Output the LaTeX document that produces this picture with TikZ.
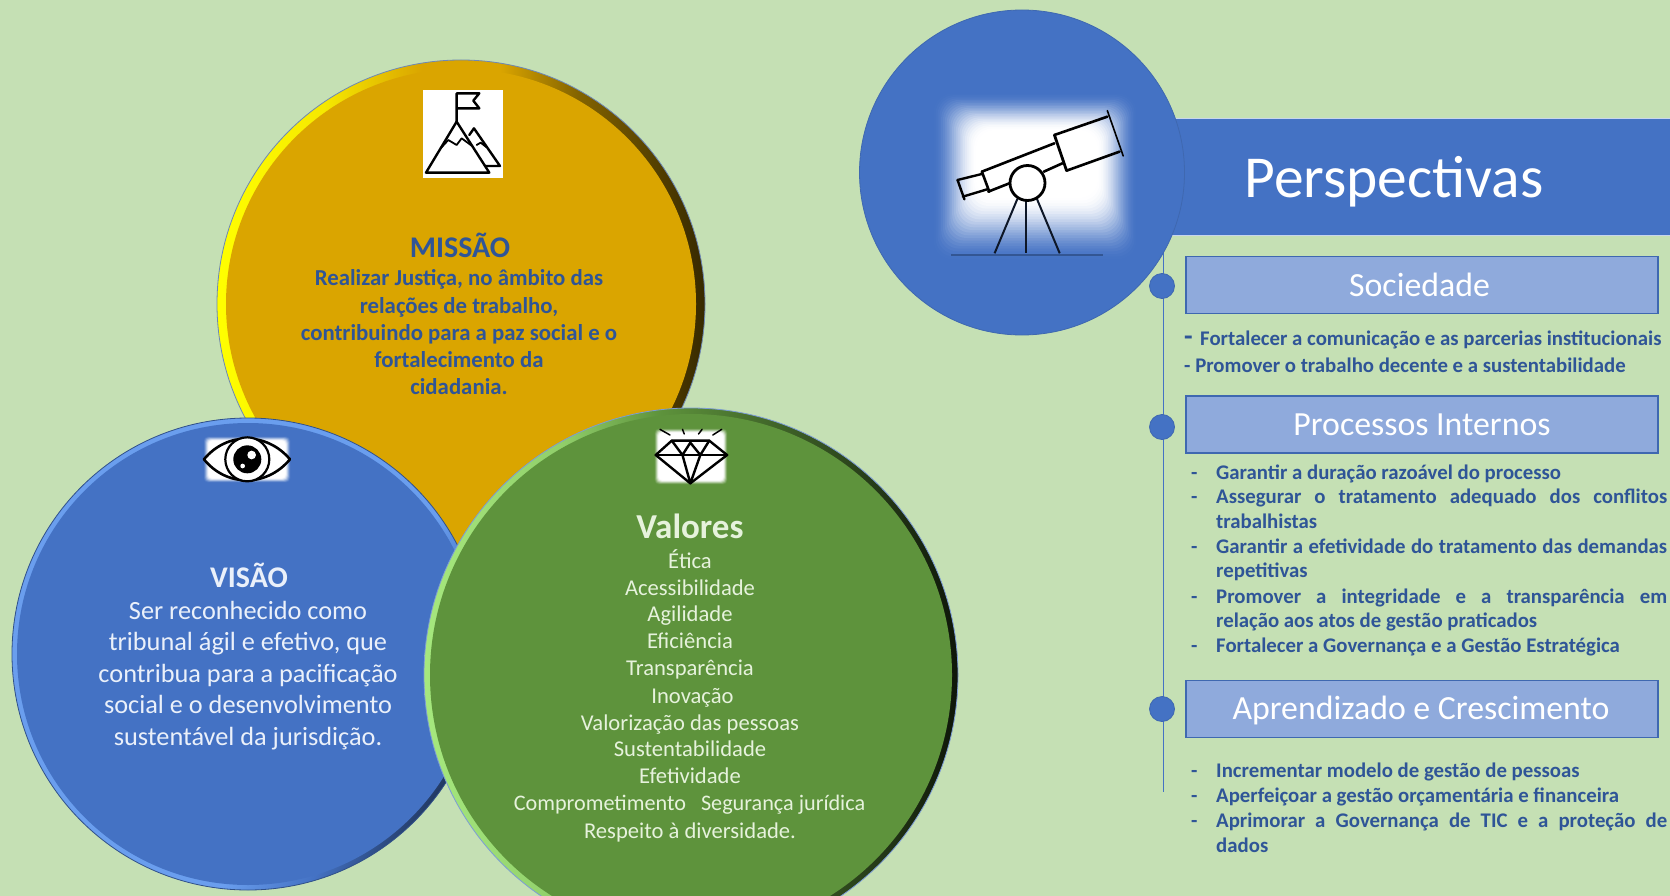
\documentclass[tikz,border=0pt]{standalone}
\usepackage{fontspec}
\setmainfont{Carlito}
\definecolor{pagebg}{HTML}{C5E0B4}
\definecolor{bandblue}{HTML}{4472C4}
\definecolor{boxblue}{HTML}{8FAADC}
\definecolor{edgeblue}{HTML}{3F68B0}
\definecolor{inkblue}{HTML}{2F5597}
\definecolor{softwhite}{HTML}{EAF0FA}
\definecolor{softgreen}{HTML}{E6F2DC}
\definecolor{gold}{HTML}{DAA500}
\definecolor{grass}{HTML}{5E933C}
\definecolor{skyrim}{HTML}{6A9EEE}
\definecolor{limerim}{HTML}{A6E87E}
\pgfdeclarehorizontalshading{goldring}{100bp}{color(0bp)=(yellow); color(25bp)=(yellow); color(36bp)=(yellow!75!gold); color(46bp)=(gold); color(54bp)=(gold); color(62bp)=(gold!60!black); color(75bp)=(gold!25!black); color(100bp)=(gold!25!black)}
\pgfdeclarehorizontalshading{bluering}{100bp}{color(0bp)=(skyrim); color(25bp)=(skyrim); color(60bp)=(skyrim); color(68bp)=(bandblue); color(75bp)=(bandblue!50!black); color(100bp)=(bandblue!50!black)}
\pgfdeclarehorizontalshading{greenring}{100bp}{color(0bp)=(limerim); color(25bp)=(limerim); color(38bp)=(limerim!70!grass); color(47bp)=(grass); color(54bp)=(grass!80!black); color(64bp)=(grass!50!black); color(75bp)=(grass!15!black); color(100bp)=(grass!15!black)}
\tikzset{
  disc/.style={circle,inner sep=0pt,outer sep=0pt},
  ctr/.style={anchor=base,inner sep=0pt,align=center},
  lft/.style={anchor=base west,inner sep=0pt},
  missaotitle/.style={ctr,text=inkblue,font=\fontsize{30}{30}\selectfont\bfseries},
  missaotext/.style={ctr,text=inkblue,font=\fontsize{22.8}{22.8}\selectfont\bfseries},
  visaotitle/.style={ctr,text=softwhite,font=\fontsize{30}{30}\selectfont\bfseries},
  visaotext/.style={ctr,text=softwhite,font=\fontsize{26.3}{26.3}\selectfont},
  valtitle/.style={ctr,text=softgreen,font=\fontsize{35}{35}\selectfont\bfseries},
  valtext/.style={ctr,text=softgreen,font=\fontsize{22.6}{22.6}\selectfont},
  headbox/.style={anchor=north west,inner sep=0pt,fill=boxblue,draw=edgeblue,line width=1.6pt},
  headtext/.style={anchor=base,inner sep=0pt,text=white,font=\fontsize{33.8}{33.8}\selectfont},
  listtext/.style={lft,text=inkblue,font=\fontsize{20.8}{20.8}\selectfont\bfseries},
  dot/.style={circle,inner sep=0pt,minimum size=25pt,fill=bandblue,draw=edgeblue,line width=.8pt},
  iconline/.style={draw=black,line width=2.4pt,line join=round,line cap=round},
}
\newcommand{\glowrad}{4pt}
\newcommand{\glowbox}[9]{%
  \foreach \i in {0,...,24}{%
    \pgfmathsetmacro{\tt}{\i/24}%
    \pgfmathsetmacro{\pc}{100*\tt*\tt*(3-2*\tt)}%
    \pgfmathsetmacro{\ax}{#1+\tt*(#5-(#1))}%
    \pgfmathsetmacro{\ay}{#2+\tt*(#6-(#2))}%
    \pgfmathsetmacro{\bx}{#3+\tt*(#7-(#3))}%
    \pgfmathsetmacro{\by}{#4+\tt*(#8-(#4))}%
    \fill[white!\pc!#9,rounded corners=\glowrad] (\ax,\ay) rectangle (\bx,\by);
  }%
}
\newcommand{\listline}[3]{\node[listtext] (#1) at (1191,#2) {\makebox[25pt][l]{-}#3};}
\newcommand{\listjust}[3]{\node[listtext] (#1) at (1191,#2) {\makebox[25pt][l]{-}\makebox[451pt][s]{#3}};}
\begin{document}
\begin{tikzpicture}[x=1pt,y=-1pt]
\clip (0,0) rectangle (1670,896);
\fill[pagebg] (0,0) rectangle (1670,896);

% ---------- Missao
\node[disc,minimum size=488pt,shade,shading=goldring,draw=inkblue!70!white,line width=.8pt] (missao) at (461,304) {};
\node[disc,minimum size=470pt,fill=gold] (missaoin) at (461,304) {};
\fill[white] (423,90) rectangle (503,178);
\begin{scope}[shift={(200,50)},x=.3333pt,y=-.3333pt]
  \draw[iconline] (770,215) -- (770,130) -- (838,130) -- (820,152) -- (838,175) -- (770,175);
  \draw[iconline] (678,368) -- (770,215) -- (868,368) -- cycle;
  \draw[iconline,line width=1.8pt] (722,295) -- (745,270) -- (770,285) -- (785,265) -- (815,287);
  \draw[iconline] (808,255) -- (822,235) -- (900,348) -- (855,348);
  \draw[iconline,line width=1.8pt] (830,285) -- (842,278) -- (860,292);
\end{scope}
\node[missaotitle] (m0) at (460,257) {MISSÃO};
\node[missaotext] (m1) at (459,285) {Realizar Justiça, no âmbito das};
\node[missaotext] (m2) at (459,313) {relações de trabalho,};
\node[missaotext] (m3) at (459,340) {contribuindo para a paz social e o};
\node[missaotext] (m4) at (459,367) {fortalecimento da};
\node[missaotext] (m5) at (459,394) {cidadania.};

% ---------- Visao
\node[disc,minimum size=472pt,shade,shading=bluering,shading angle=-30,draw=bandblue!70!black,line width=.8pt] (visao) at (248,654) {};
\node[disc,minimum size=462pt,fill=bandblue] (visaoin) at (248,654) {};
\glowbox{203}{436}{291}{483}{209}{441}{285}{478}{bandblue}
\begin{scope}[shift={(0,400)},x=.3333pt,y=-.3333pt]
  \draw[iconline,fill=white,line width=2.6pt] (612,178) .. controls (680,95) and (800,95) .. (870,178) .. controls (800,262) and (680,262) .. cycle;
  \draw[iconline,fill=white,line width=2.2pt] (742,178) circle[radius=66];
  \fill[black] (742,178) circle[radius=42];
  \fill[white] (755,165) circle[radius=13];
  \fill[white] (728,198) circle[radius=7];
\end{scope}
\node[visaotitle] (v0) at (249,587) {VISÃO};
\node[visaotext] (v1) at (248,619) {Ser reconhecido como};
\node[visaotext] (v2) at (248,650) {tribunal ágil e efetivo, que};
\node[visaotext] (v3) at (248,682) {contribua para a pacificação};
\node[visaotext] (v4) at (248,713) {social e o desenvolvimento};
\node[visaotext] (v5) at (248,745) {sustentável da jurisdição.};

% ---------- Valores
\node[disc,minimum size=534pt,shade,shading=greenring,draw=bandblue!70!white,line width=.8pt] (valores) at (691,675) {};
\node[disc,minimum size=522pt,fill=grass] (valoresin) at (691,675) {};
\glowbox{654}{428}{728}{485}{659}{433}{723}{480}{grass}
\begin{scope}[shift={(420,400)},x=.3571pt,y=-.3333pt]
  \draw[iconline] (705,122) -- (810,122) -- (860,165) -- (757,250) -- (660,165) -- cycle;
  \draw[iconline] (660,165) -- (860,165);
  \draw[iconline] (705,122) -- (735,165) -- (757,128) -- (785,165) -- (810,122);
  \draw[iconline] (735,165) -- (757,250) -- (785,165);
  \draw[iconline,line width=1.5pt] (672,88) -- (700,105);
  \draw[iconline,line width=1.5pt] (735,88) -- (740,102);
  \draw[iconline,line width=1.5pt] (790,88) -- (780,102);
  \draw[iconline,line width=1.5pt] (845,88) -- (820,105);
\end{scope}
\node[valtitle] (a0) at (690,538) {Valores};
\node[valtext] (a1) at (690,568) {Ética};
\node[valtext] (a2) at (690,595) {Acessibilidade};
\node[valtext] (a3) at (690,621) {Agilidade};
\node[valtext] (a4) at (690,648) {Eficiência};
\node[valtext] (a5) at (690,675) {Transparência};
\node[valtext] (a6) at (692.5,703) {Inovação};
\node[valtext] (a7) at (690,730) {Valorização das pessoas};
\node[valtext] (a8) at (690,756) {Sustentabilidade};
\node[valtext] (a9) at (690,783) {Efetividade};
\node[valtext,font=\fontsize{22.2}{22.2}\selectfont] (a10) at (689.5,810) {Comprometimento\hspace{15pt}Segurança jurídica};
\node[valtext] (a11) at (690,838) {Respeito à diversidade.};

% ---------- Perspectivas band, timeline, circle
\fill[bandblue] (1100,118) rectangle (1670,235);
\draw[white!70!bandblue,line width=.8pt] (1100,118) -- (1670,118) (1100,235) -- (1670,235);
\coordinate (tltop) at (1163.4,250);
\coordinate (tlend) at (1163.4,792);
\draw[bandblue,line width=1.8pt] (tltop) -- (tlend);
\node[disc,minimum size=325pt,fill=bandblue,draw=edgeblue,line width=.8pt] (persp) at (1022,172.5) {};
\renewcommand{\glowrad}{18pt}
\glowbox{932}{92}{1138}{262}{976}{130}{1098}{198}{bandblue}
\begin{scope}[shift={(840,0)},x=.5294pt,y=-.3333pt]
  \draw[iconline,line width=2.6pt] (405,405) -- (505,350);
  \draw[iconline,line width=1.6pt] (505,332) -- (535,468);
  \draw[iconline,line width=2.6pt] (428,512) -- (528,455);
  \draw[iconline,line width=2.8pt] (405,405) -- (428,512);
  \draw[iconline,line width=2.6pt] (268,515) -- (405,430);
  \draw[iconline,line width=2.6pt] (280,575) -- (320,550) (385,515) -- (420,490);
  \draw[iconline,line width=2.6pt] (268,515) -- (282,575);
  \draw[iconline,line width=2.4pt] (222,540) -- (268,522);
  \draw[iconline,line width=2.4pt] (232,590) -- (278,568);
  \draw[iconline,line width=2.4pt] (222,540) -- (235,598);
  \draw[draw=black!80!bandblue,line width=2pt] (335,597) -- (292,760);
  \draw[draw=black!80!bandblue,line width=2pt] (352,600) -- (352,760);
  \draw[draw=black!80!bandblue,line width=2pt] (372,597) -- (415,760);
  \draw[draw=bandblue!75!black,line width=1.2pt] (210,765) -- (497,765);
\end{scope}
\draw[iconline,line width=2.8pt] (1027.5,183) circle[radius=17.5];
\node[anchor=base,inner sep=0pt,text=white,font=\fontsize{59.5}{59.5}\selectfont] (ptitle) at (1394,197) {Perspectivas};

% ---------- Timeline dots
\node[dot] (d1) at (1162,286) {};
\node[dot] (d2) at (1162,427) {};
\node[dot] (d3) at (1162,709) {};

% ---------- Header boxes
\node[headbox,minimum width=472pt,minimum height=57pt] (sociedade) at (1185,255.5) {};
\node[headbox,minimum width=472pt,minimum height=57pt] (processos) at (1185,395) {};
\node[headbox,minimum width=472pt,minimum height=57pt] (aprendizado) at (1185,679.5) {};
\node[headtext] (sociedadetxt) at (1419.5,296) {Sociedade};
\node[headtext] (processostxt) at (1422,435) {Processos Internos};
\node[headtext] (aprendizadotxt) at (1421,719) {Aprendizado e Crescimento};

% ---------- Lists
\node[listtext] (s1) at (1184,345) {\makebox[16pt][l]{\fontsize{28}{28}\selectfont -}Fortalecer a comunicação e as parcerias institucionais};
\node[listtext] (s2) at (1184,372) {- Promover o trabalho decente e a sustentabilidade};
\listline{p1}{479}{Garantir a duração razoável do processo}
\listjust{p2}{503}{Assegurar o tratamento adequado dos conflitos}
\node[listtext] (p2b) at (1216,528) {trabalhistas};
\listjust{p3}{553}{Garantir a efetividade do tratamento das demandas}
\node[listtext] (p3b) at (1216,577) {repetitivas};
\listjust{p4}{603}{Promover a integridade e a transparência em}
\node[listtext] (p4b) at (1216,627) {relação aos atos de gestão praticados};
\listline{p5}{652}{Fortalecer a Governança e a Gestão Estratégica}
\listline{c1}{777}{Incrementar modelo de gestão de pessoas}
\listline{c2}{802}{Aperfeiçoar a gestão orçamentária e financeira}
\listjust{c3}{827}{Aprimorar a Governança de TIC e a proteção de}
\node[listtext] (c3b) at (1216,852) {dados};
\end{tikzpicture}
\end{document}
